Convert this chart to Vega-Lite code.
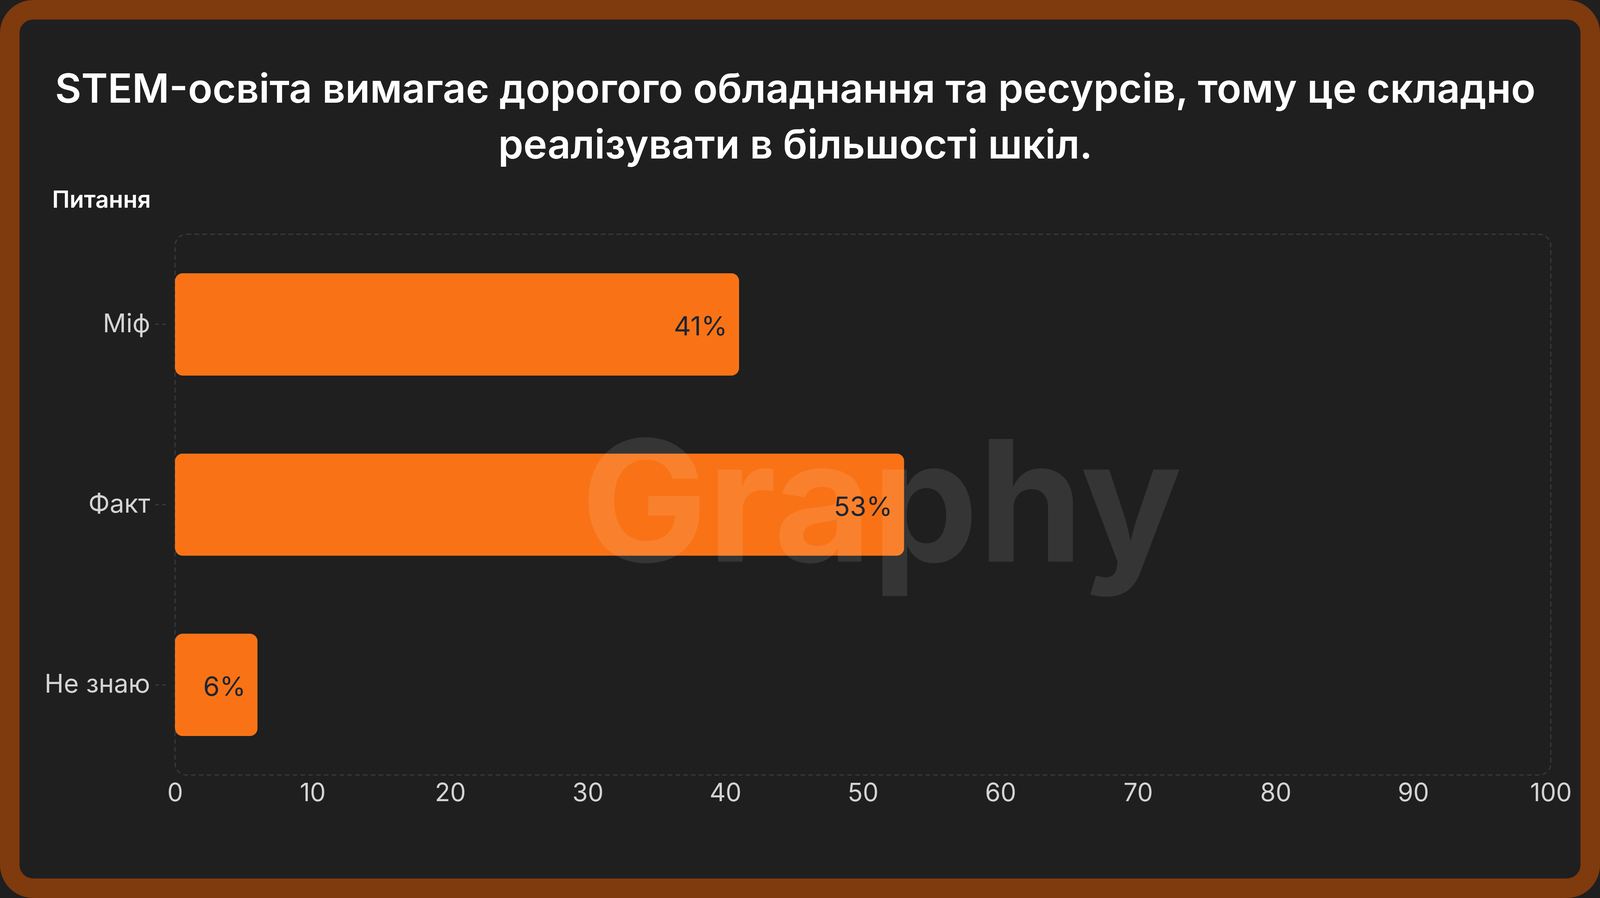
{
  "$schema": "https://vega.github.io/schema/vega-lite/v6.json",
  "width": 3522,
  "height": 1385,
  "autosize": {"type": "none"},
  "padding": {"left": 448, "top": 600, "right": 126, "bottom": 315},
  "background": "#1F1F1F",
  "title": {
    "text": ["STEM-освіта вимагає дорогого обладнання та ресурсів, тому це складно", "реалізувати в більшості шкіл."],
    "anchor": "middle",
    "frame": "group",
    "font": "Inter",
    "fontSize": 103,
    "fontWeight": 600,
    "color": "#FFFFFF",
    "lineHeight": 143,
    "dx": -173,
    "offset": -428
  },
  "data": {
    "values": [
      {"answer": "Міф", "percent": 41, "label": "41%"},
      {"answer": "Факт", "percent": 53, "label": "53%"},
      {"answer": "Не знаю", "percent": 6, "label": "6%"}
    ]
  },
  "layer": [
    {
      "data": {"values": [{}]},
      "mark": {"type": "rect", "fill": "transparent", "stroke": "#7F3A0E", "strokeWidth": 50, "cornerRadius": 60},
      "encoding": {
        "x": {"value": -423}, "x2": {"value": 3623},
        "y": {"value": -575}, "y2": {"value": 1675}
      }
    },
    {
      "data": {"values": [{}]},
      "mark": {"type": "rect", "fill": "transparent", "stroke": "#3A3A3A", "strokeWidth": 3, "strokeDash": [12, 8], "cornerRadius": 30},
      "encoding": {
        "x": {"value": 0}, "x2": {"value": "width"},
        "y": {"value": 0}, "y2": {"value": "height"}
      }
    },
    {
      "mark": {"type": "bar", "color": "#F97316", "cornerRadius": 20},
      "encoding": {
        "y": {
          "field": "answer", "type": "nominal", "sort": null, "title": "Питання",
          "scale": {"paddingInner": 0.432, "paddingOuter": 0.216},
          "axis": {
            "domain": false, "grid": false, "offset": 24,
            "ticks": true, "tickSize": 27, "tickWidth": 3, "tickDash": [9, 9], "tickColor": "#3D3D3D",
            "labelFontSize": 66, "labelColor": "#D4D4D4", "labelPadding": 13, "labelFont": "Inter", "labelLimit": 0,
            "titleAngle": 0, "titleAlign": "left", "titleBaseline": "alphabetic",
            "titleX": -291, "titleY": -69, "titleFontSize": 60, "titleFontWeight": 600,
            "titleColor": "#FFFFFF", "titleFont": "Inter"
          }
        },
        "x": {
          "field": "percent", "type": "quantitative", "title": null,
          "scale": {"domain": [0, 100], "nice": false},
          "axis": {
            "values": [0, 10, 20, 30, 40, 50, 60, 70, 80, 90, 100],
            "domain": false, "grid": false, "ticks": false, "labelFlush": false,
            "labelFontSize": 64, "labelColor": "#D4D4D4", "labelPadding": 15, "labelFont": "Inter"
          }
        }
      }
    },
    {
      "data": {"values": [{}]},
      "mark": {"type": "text", "text": "Graphy", "font": "Inter", "fontSize": 432, "fontWeight": 700, "fill": "#FFFFFF", "fillOpacity": 0.1, "align": "left", "baseline": "alphabetic", "dy": 146},
      "encoding": {
        "x": {"datum": 29.5, "type": "quantitative"},
        "y": {"datum": "Факт", "type": "nominal"}
      }
    },
    {
      "mark": {"type": "text", "font": "Inter", "fontSize": 68, "color": "#1E2431", "align": "right", "baseline": "middle", "dx": -30, "dy": 8},
      "encoding": {
        "y": {"field": "answer", "type": "nominal", "sort": null},
        "x": {"field": "percent", "type": "quantitative"},
        "text": {"field": "label"}
      }
    }
  ],
  "config": {
    "view": {"stroke": null},
    "font": "Inter",
    "axis": {"zindex": 1}
  }
}
